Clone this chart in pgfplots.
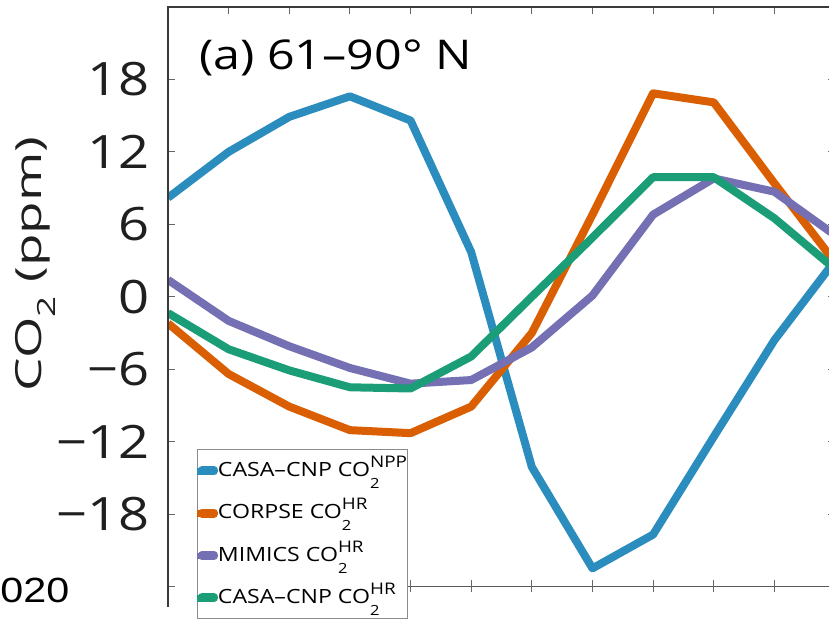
\documentclass[border=0pt]{standalone}
\usepackage{pgfplots}
\pgfplotsset{compat=1.18}
\usepackage{graphicx}
\usepackage{fontspec}
\setmainfont{Open Sans}[FakeStretch=1.18]
\newfontfamily\yearfont{Liberation Sans}[FakeStretch=1.18]

\definecolor{npp}{HTML}{2B8CBE}
\definecolor{corpse}{HTML}{D95F02}
\definecolor{mimics}{HTML}{7570B3}
\definecolor{casahr}{HTML}{1B9E77}
\definecolor{axisgray}{HTML}{3A3A3A}

% stacked superscript / subscript after "CO"
\DeclareRobustCommand{\supsub}[2]{%
  \setbox0=\hbox{\raisebox{9pt}{\fontsize{16}{16}\selectfont #1}}%
  \setbox2=\hbox{\raisebox{-12pt}{\fontsize{14}{14}\selectfont #2}}%
  \ifdim\wd0>\wd2 \rlap{\box2}\box0\else\rlap{\box0}\box2\fi}

% monthly CO2 seasonal cycle, 61-90 N
\pgfplotstableread{
month  npp     corpse  mimics  casahr
1      8.2    -2.2     1.4    -1.35
2     12.0    -6.4    -2.0    -4.35
3     14.9    -9.1    -4.1    -6.1
4     16.6   -11.05   -5.9    -7.5
5     14.6   -11.3    -7.2    -7.6
6      3.7    -9.1    -6.9    -4.95
7    -14.1    -3.0    -4.2     0.0
8    -22.5     6.8     0.1     4.9
9    -19.7    16.85    6.8     9.9
10   -11.6    16.1     9.8     9.9
11    -3.6     9.4     8.7     6.5
12     3.0     2.85    5.1     2.3
}\cycledata

\begin{document}
\begin{tikzpicture}
\useasboundingbox (0,0) rectangle (829pt,-620pt);
\clip (0,0) rectangle (829pt,-620pt);
\begin{axis}[
  at={(168pt,-7pt)}, anchor=north west,
  scale only axis, width=667pt, height=600pt,
  xmin=1, xmax=12, ymin=-25.7, ymax=24,
  clip mode=individual,
  axis line style={draw=none},
  xtick={1,...,12}, xticklabels={}, xtick pos=right,
  ytick={-24,-18,-12,-6,0,6,12,18},
  yticklabels={,−18,−12,−6,0,6,12,18},
  ytick pos=both, yticklabel pos=left,
  tick align=inside,
  major tick length=7pt,
  tick style={black!60, line width=1pt},
  yticklabel style={font=\fontsize{46}{46}\selectfont, inner sep=0pt, xshift=-18pt, text=black!88},
  ylabel={\scalebox{1.25}[1]{CO\raisebox{-14pt}{\fontsize{25}{25}\selectfont 2} (ppm)}},
  ylabel style={font=\fontsize{36}{38}\selectfont, at={(axis description cs:-0.189,0.572)}, anchor=base, inner sep=0pt, text=black!88},
  every axis plot/.append style={line width=8pt, line join=round},
  legend style={
    at={(0.0435,0.2633)}, anchor=north west,
    draw=black!45, line width=0.8pt, fill=white,
    inner xsep=0.5pt, inner ysep=3pt,
    row sep=6.3pt, column sep=0pt,
    font=\fontsize{19.6}{24}\selectfont,
    nodes={inner sep=0pt, text height=24pt, text depth=12pt},
  },
  legend cell align=left,
  legend image code/.code={%
    \path[use as bounding box] (5pt,-1pt) rectangle (17pt,0pt);
    \draw[line width=6.5pt] (0pt,-1pt) -- (17pt,-1pt);},
]
\addplot[npp]    table[x=month, y=npp]    {\cycledata};
\addlegendentry{CASA–CNP CO\supsub{NPP}{2}}
\addplot[corpse] table[x=month, y=corpse] {\cycledata};
\addlegendentry{CORPSE CO\supsub{HR}{2}}
\addplot[mimics] table[x=month, y=mimics] {\cycledata};
\addlegendentry{MIMICS CO\supsub{HR}{2}}
\addplot[casahr] table[x=month, y=casahr] {\cycledata};
\addlegendentry{CASA–CNP CO\supsub{HR}{2}}

% frame: left, top and right sides
\draw[axisgray, line width=1.3pt] (rel axis cs:0,0) -- (rel axis cs:0,1) -- (rel axis cs:1,1) -- (rel axis cs:1,0);
% baseline at -24 with ticks crossing it
\draw[black!65, line width=1.3pt] (axis cs:1.6,-24) -- (axis cs:12,-24);
\pgfplotsinvokeforeach{2,...,11}{
  \draw[black!60, line width=1pt] ([yshift=-6pt]axis cs:#1,-24) -- ([yshift=6pt]axis cs:#1,-24);
}
\node[anchor=base west, inner sep=0pt, font=\fontsize{41}{41}\selectfont]
  at (axis description cs:0.0465,0.895) {(a) 61–90° N};
\end{axis}
\node[anchor=base east, inner sep=0pt, font=\yearfont\fontsize{35}{35}\selectfont]
  at (69.5pt,-602pt) {2020};
\end{tikzpicture}
\end{document}
